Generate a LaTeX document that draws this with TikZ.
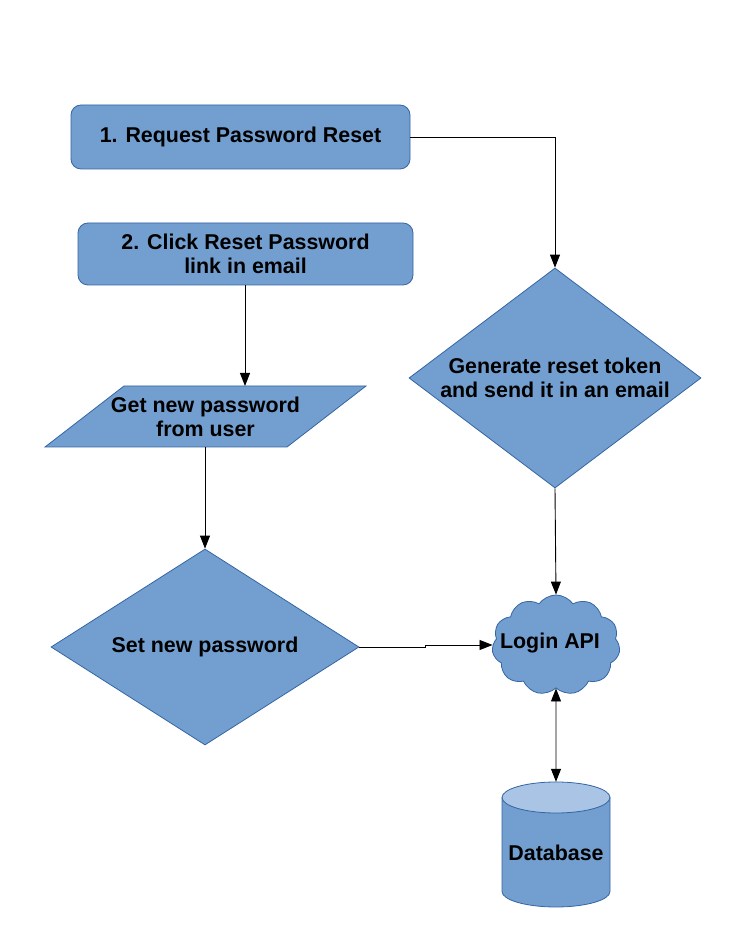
\documentclass[tikz,border=0pt]{standalone}
\usepackage{fontspec}
\setmainfont{Liberation Sans}
\usetikzlibrary{shapes.geometric,shapes.symbols,arrows.meta,calc}
\definecolor{boxfill}{HTML}{729FCF}
\definecolor{boxline}{HTML}{3465A4}
\definecolor{dbtop}{HTML}{A9C4E5}
\begin{document}
\begin{tikzpicture}[x=1pt,y=1pt,
  every node/.style={font=\fontsize{21.4}{24}\selectfont\bfseries, align=center},
  shp/.style={draw=boxline, fill=boxfill, line width=0.8pt},
  rbox/.style={shp, rounded corners=10pt, inner sep=0pt},
  dia/.style={shp, diamond, inner sep=0pt},
  conn/.style={line width=0.9pt, draw=black},
  arr/.style={conn, -{Triangle[length=13pt,width=10pt]}},
  darr/.style={conn, {Triangle[length=13pt,width=10pt]}-{Triangle[length=13pt,width=10pt]}}]
\useasboundingbox (0,0) rectangle (731,946);

\node[rbox, minimum width=339pt, minimum height=64pt] (req) at (240.5,809) {1. Request Password Reset};
\node[rbox, minimum width=335pt, minimum height=62pt] (click) at (245.5,692) {2. Click Reset Password\\link in email};
\node[dia, aspect=1.4, minimum width=292pt, minimum height=220pt] (gen) at (555,568) {Generate reset token\\and send it in an email};

% parallelogram
\fill[boxfill] (124,560) -- (366,560) -- (287,499) -- (45,499) -- cycle;
\draw[boxline, line width=0.8pt] (124,560) -- (366,560) -- (287,499) -- (45,499) -- cycle;
\node[minimum height=61pt, inner sep=0pt] (get) at (205.5,529.5) {Get new password\\from user};

\node[dia, aspect=1.6, minimum width=308pt, minimum height=196pt] (set) at (205,299) {Set new password};

\node[shp, cloud, cloud puffs=11, cloud puff arc=110, aspect=1.3, minimum width=128pt, minimum height=100pt, inner sep=0pt] (api) at (556,301) {};
\node at (550,303) {Login API};

% database
\node[minimum width=108pt, minimum height=125pt, inner sep=0pt] (db) at (556,101.5) {};
\fill[boxfill] (502,148.5) -- (502,54.5) arc[start angle=180,end angle=360,x radius=54,y radius=15.5] -- (610,148.5) -- cycle;
\draw[boxline, line width=0.8pt] (502,148.5) -- (502,54.5) arc[start angle=180,end angle=360,x radius=54,y radius=15.5] -- (610,148.5);
\draw[boxline, fill=dbtop, line width=0.8pt] (556,148.5) ellipse [x radius=54, y radius=15.5];
\node at (556,93) {Database};

% connectors
\draw[arr] (req.east) -| (gen.north);
\draw[arr] (click.south -| 245,0) -- (245,560);
\draw[arr] (205,499) -- (set.north);
\draw[arr] (set.east) -- ++(66,0) |- (api.west);
\draw[arr] (gen.south) -- (api.north);
\draw[darr] (api.south) -- (db.north);
\end{tikzpicture}
\end{document}
